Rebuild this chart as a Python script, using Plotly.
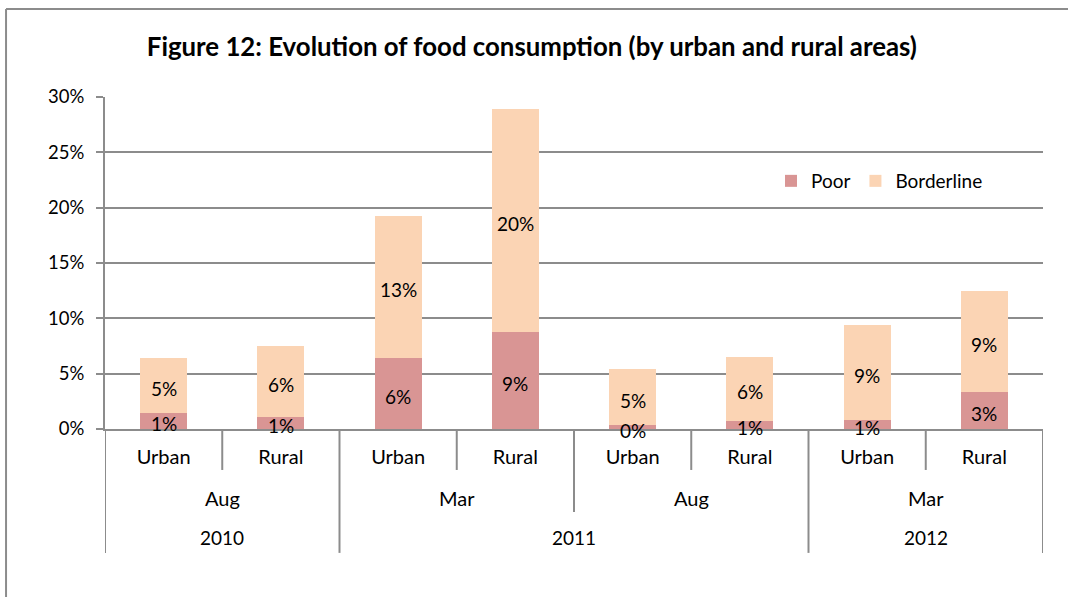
import plotly.graph_objects as go

# Survey rounds, one bar per area
years = ["2010", "2010", "2011", "2011", "2011", "2011", "2012", "2012"]
months = ["Aug", "Aug", "Mar", "Mar", "Aug", "Aug", "Mar", "Mar"]
areas = ["Urban", "Rural", "Urban", "Rural", "Urban", "Rural", "Urban", "Rural"]

# Share of households by food consumption group
poor = [0.0145, 0.0110, 0.0644, 0.0876, 0.0036, 0.0075, 0.0084, 0.0337]
borderline = [0.0497, 0.0640, 0.1285, 0.2020, 0.0506, 0.0578, 0.0855, 0.0910]

y_ticks = [0, 0.05, 0.10, 0.15, 0.20, 0.25, 0.30]

FONT = "Lato"
GRID = "#8c8c8c"
TXT = "#000000"
x = list(range(len(areas)))

fig = go.Figure()
series = [("Poor", poor, "#D99594"), ("Borderline", borderline, "#FBD4B4")]
for name, vals, color in series:
    fig.add_trace(go.Bar(
        x=x, y=vals, name=name, marker=dict(color=color, line=dict(width=0)),
        hovertemplate="%{y:.1%}<extra>" + name + "</extra>",
    ))

annotations = []

# value labels centred on each stacked segment, drawn above all bars
base = [0.0] * len(x)
for _, vals, _ in series:
    for i, v in enumerate(vals):
        annotations.append(dict(x=x[i], y=base[i] + v / 2, xref="x", yref="y",
                                text=f"{v:.0%}", showarrow=False, yshift=-3,
                                font=dict(family=FONT, size=19, color=TXT)))
        base[i] += v

# plot area height in px, used to convert separator depths to paper units
PLOT_H = 332.3
def below(px):
    return -px / PLOT_H


def groups(keys):
    """Contiguous runs of equal keys -> (label, start, end)."""
    out = []
    start = 0
    for i in range(1, len(keys) + 1):
        if i == len(keys) or keys[i] != keys[start]:
            out.append((keys[start][-1], start, i - 1))
            start = i
    return out


shapes = []
year_groups = groups([(y,) for y in years])
month_groups = groups([(y, m) for y, m in zip(years, months)])

year_edges = {g[1] - 0.5 for g in year_groups} | {g[2] + 0.5 for g in year_groups}
month_edges = ({g[1] - 0.5 for g in month_groups} | {g[2] + 0.5 for g in month_groups}) - year_edges
area_edges = {i + 0.5 for i in range(len(areas) - 1)} - year_edges - month_edges

for edges, depth in [(area_edges, 41), (month_edges, 83), (year_edges, 124)]:
    for e in edges:
        shapes.append(dict(type="line", xref="x", yref="paper", x0=e, x1=e,
                           y0=0, y1=below(depth), line=dict(color=GRID, width=2)))

for label, s, e in month_groups:
    annotations.append(dict(x=(s + e) / 2, y=below(69), xref="x", yref="paper",
                            text=label, showarrow=False, yanchor="middle",
                            font=dict(family=FONT, size=20, color=TXT)))
for label, s, e in year_groups:
    annotations.append(dict(x=(s + e) / 2, y=below(109), xref="x", yref="paper",
                            text=label, showarrow=False, yanchor="middle",
                            font=dict(family=FONT, size=19, color=TXT)))

# outer chart frame (left and top edges)
shapes.append(dict(type="line", xref="paper", yref="paper", x0=-0.1055, x1=-0.1055,
                   y0=1.265, y1=-0.6, line=dict(color=GRID, width=2)))
shapes.append(dict(type="line", xref="paper", yref="paper", x0=-0.1055, x1=1.2,
                   y0=1.265, y1=1.265, line=dict(color=GRID, width=2)))

fig.update_layout(
    width=1068, height=597,
    margin=dict(l=105, r=25, t=97, b=168),
    paper_bgcolor="white", plot_bgcolor="white",
    barmode="stack", bargap=0.6,
    font=dict(family=FONT, size=19, color=TXT),
    title=dict(text="<b>Figure 12: Evolution of food consumption (by urban and rural areas)</b>",
               x=0.498, xanchor="center", y=1 - 47 / 597, yanchor="middle",
               font=dict(family=FONT, size=25.8, color=TXT)),
    legend=dict(orientation="h", x=0.71, xanchor="left", y=0.747, yanchor="middle",
                traceorder="normal", bgcolor="rgba(0,0,0,0)",
                font=dict(family=FONT, size=19, color=TXT)),
    xaxis=dict(range=[-0.5, len(areas) - 0.5], tickmode="array", tickvals=x, ticktext=areas,
               showgrid=False, zeroline=False, showline=True, linecolor=GRID, linewidth=2,
               ticks="", tickfont=dict(family=FONT, size=20, color=TXT),
               ticklabelstandoff=9, layer="below traces"),
    yaxis=dict(range=[0, 0.30], tickmode="array", tickvals=y_ticks, tickformat=".0%",
               showgrid=True, gridcolor=GRID, gridwidth=2, zeroline=False,
               showline=True, linecolor=GRID, linewidth=2,
               ticks="outside", ticklen=7, tickcolor=GRID, tickwidth=2,
               tickfont=dict(family=FONT, size=18.5, color=TXT), ticklabelstandoff=8,
               layer="below traces"),
    shapes=shapes, annotations=annotations,
)

fig.write_html("out.html")
